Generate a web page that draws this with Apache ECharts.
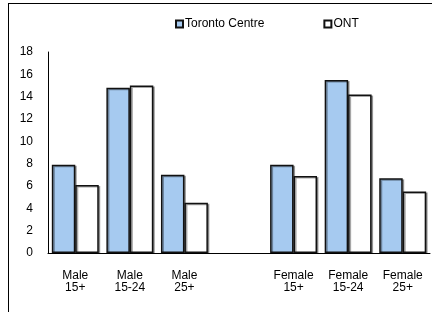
<!doctype html>
<html>

<head>
    <meta charset="utf-8">
    <title>Chart</title>
    <style>
        body {
            margin: 0;
            background: #fff;
        }

        #chart {
            width: 432px;
            height: 312px;
        }
    </style>
</head>

<body>
    <div id="chart"></div>
    <script src="https://cdn.jsdelivr.net/npm/echarts@6/dist/echarts.min.js"></script>
    <script>
        // categories (the empty one is the gap between the two groups)
        var categories = ['Male\n15+', 'Male\n15-24', 'Male\n25+', '', 'Female\n15+', 'Female\n15-24', 'Female\n25+'];
        var torontoCentre = [7.9, 14.8, 7.0, null, 7.9, 15.5, 6.7];
        var ont = [6.1, 15.0, 4.5, null, 6.9, 14.2, 5.5];
        var yTicks = { min: 0, max: 18, step: 2 };

        var font = 'Liberation Sans, Arial, sans-serif';

        var myChart = echarts.init(document.getElementById('chart'));
        var option = {
            animation: false,
            textStyle: { fontFamily: font },
            legend: {
                top: 13,
                left: 170,
                itemGap: 59,
                itemWidth: 7,
                itemHeight: 7,
                icon: 'rect',
                textStyle: { fontSize: 12, color: '#000', fontFamily: font, padding: [0, 0, 0, -3] },
                data: ['Toronto Centre', 'ONT']
            },
            grid: { left: 48, right: 2, top: 52, bottom: 59 },
            xAxis: {
                type: 'category',
                data: categories,
                axisLine: { lineStyle: { color: '#000', width: 1 } },
                axisTick: { show: false },
                axisLabel: { color: '#000', fontSize: 12, lineHeight: 12, margin: 17, interval: 0, fontFamily: font }
            },
            yAxis: {
                type: 'value',
                min: yTicks.min,
                max: yTicks.max,
                interval: yTicks.step,
                splitLine: { show: false },
                axisLine: { show: true, lineStyle: { color: '#000', width: 1 } },
                axisTick: { show: false },
                axisLabel: { color: '#000', fontSize: 12, margin: 15, fontFamily: font }
            },
            series: [
                {
                    name: 'Toronto Centre',
                    type: 'bar',
                    data: torontoCentre,
                    barGap: '0%',
                    barCategoryGap: '14%',
                    itemStyle: {
                        color: '#a6caf0',
                        borderColor: '#111',
                        borderWidth: 1.5,
                        shadowColor: 'rgba(0,0,0,0.35)',
                        shadowOffsetX: 1.5,
                        shadowOffsetY: 1
                    }
                },
                {
                    name: 'ONT',
                    type: 'bar',
                    data: ont,
                    itemStyle: {
                        color: '#fff',
                        borderColor: '#111',
                        borderWidth: 1.5,
                        shadowColor: 'rgba(0,0,0,0.35)',
                        shadowOffsetX: 1.5,
                        shadowOffsetY: 1
                    }
                }
            ],
            graphic: [
                // frame lines of the surrounding box
                { type: 'line', shape: { x1: 8, y1: 3.5, x2: 432, y2: 3.5 }, style: { stroke: '#000', lineWidth: 1 } },
                { type: 'line', shape: { x1: 8.5, y1: 3, x2: 8.5, y2: 312 }, style: { stroke: '#000', lineWidth: 1 } }
            ]
        };
        myChart.setOption(option);
    </script>
</body>

</html>
